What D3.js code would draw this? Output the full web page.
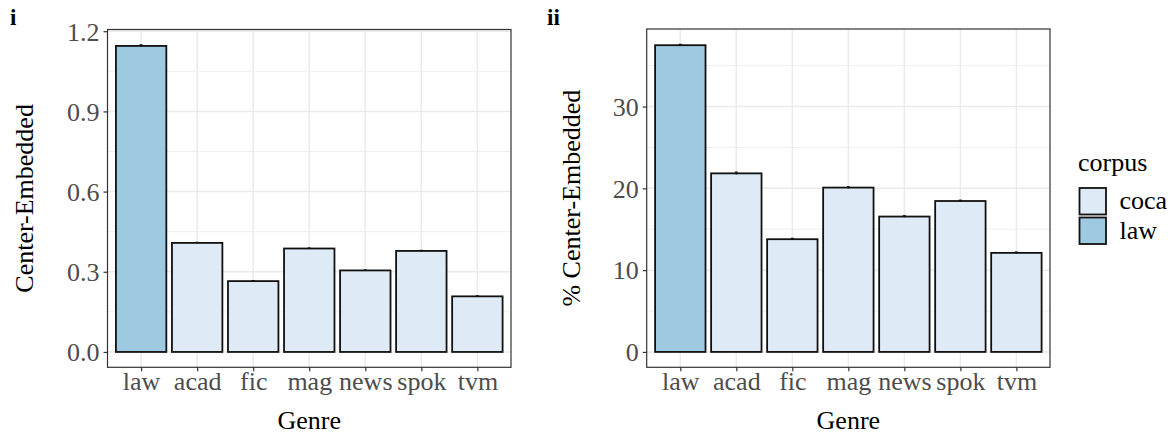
<!DOCTYPE html>
<html>
<head>
<meta charset="utf-8">
<script src="https://cdn.jsdelivr.net/npm/d3@7"></script>
<style>
  html, body { margin: 0; padding: 0; background: #ffffff; }
  svg { display: block; }
  text { font-family: "Liberation Serif", "DejaVu Serif", serif; }
</style>
</head>
<body>
<svg id="chart" width="1175" height="435"></svg>
<script>
// ---------- data ----------
const genres = ["law", "acad", "fic", "mag", "news", "spok", "tvm"];
const corpusOf = ["law", "coca", "coca", "coca", "coca", "coca", "coca"];
const centerEmbedded = [1.145, 0.408, 0.265, 0.387, 0.305, 0.378, 0.208];
const centerEmbeddedErr = [0.004, 0.002, 0.002, 0.002, 0.002, 0.002, 0.002];
const pctCenterEmbedded = [37.5, 21.83, 13.78, 20.09, 16.55, 18.45, 12.11];
const pctCenterEmbeddedErr = [0.1, 0.15, 0.1, 0.1, 0.1, 0.1, 0.1];
const yTicks1 = [0.0, 0.3, 0.6, 0.9, 1.2];
const yMinor1 = [0.15, 0.45, 0.75, 1.05];
const yTicks2 = [0, 10, 20, 30];
const yMinor2 = [5, 15, 25, 35];
const corpusLevels = ["coca", "law"];
const corpusColors = ["#DEEBF7", "#9ECAE1"];

// ---------- drawing ----------
const svg = d3.select("#chart");
const fillScale = d3.scaleOrdinal().domain(corpusLevels).range(corpusColors);

function drawPanel(opts) {
  const { left, right, top, bottom, values, errs, ticks, minor, fmt, yTitle, yTitleX, tag, tagX } = opts;
  const g = svg.append("g");

  const x = d3.scalePoint().domain(genres).range([left, right]).padding(0.6);
  const step = x.step();
  const barW = step * 0.9;

  const maxV = d3.max(values.map((v, i) => v + errs[i]));
  const y = d3.scaleLinear().domain([-0.05 * maxV, 1.05 * maxV]).range([bottom, top]);

  g.append("rect").attr("x", left).attr("y", top).attr("width", right - left).attr("height", bottom - top)
    .attr("fill", "#ffffff");

  g.selectAll(".gminor").data(minor.filter(v => y(v) > top && y(v) < bottom)).join("line")
    .attr("x1", left).attr("x2", right)
    .attr("y1", d => y(d)).attr("y2", d => y(d))
    .attr("stroke", "#EBEBEB").attr("stroke-width", 0.8);
  g.selectAll(".gmajor").data(ticks).join("line")
    .attr("x1", left).attr("x2", right)
    .attr("y1", d => y(d)).attr("y2", d => y(d))
    .attr("stroke", "#EBEBEB").attr("stroke-width", 1.5);
  g.selectAll(".gx").data(genres).join("line")
    .attr("x1", d => x(d)).attr("x2", d => x(d))
    .attr("y1", top).attr("y2", bottom)
    .attr("stroke", "#EBEBEB").attr("stroke-width", 1.5);

  g.selectAll(".bar").data(genres).join("rect")
    .attr("x", d => x(d) - barW / 2)
    .attr("width", barW)
    .attr("y", (d, i) => y(values[i]))
    .attr("height", (d, i) => y(0) - y(values[i]))
    .attr("fill", (d, i) => fillScale(corpusOf[i]))
    .attr("stroke", "#111111").attr("stroke-width", 1.8);

  const capW = 1.5;
  const eb = g.selectAll(".eb").data(genres).join("g");
  eb.append("line")
    .attr("x1", d => x(d)).attr("x2", d => x(d))
    .attr("y1", (d, i) => y(values[i] - errs[i])).attr("y2", (d, i) => y(values[i] + errs[i]))
    .attr("stroke", "#111").attr("stroke-width", 1.2);
  eb.append("line")
    .attr("x1", d => x(d) - capW).attr("x2", d => x(d) + capW)
    .attr("y1", (d, i) => y(values[i] + errs[i])).attr("y2", (d, i) => y(values[i] + errs[i]))
    .attr("stroke", "#111").attr("stroke-width", 1.2);

  g.append("rect").attr("x", left).attr("y", top).attr("width", right - left).attr("height", bottom - top)
    .attr("fill", "none").attr("stroke", "#333333").attr("stroke-width", 1.2);

  const yAxis = d3.axisLeft(y).tickValues(ticks).tickFormat(fmt).tickSize(4).tickPadding(4);
  const ya = g.append("g").attr("transform", `translate(${left},0)`).call(yAxis);
  ya.select(".domain").remove();
  ya.selectAll(".tick line").attr("stroke", "#333333").attr("stroke-width", 1.2);
  ya.selectAll(".tick text").attr("fill", "#4D4D4D")
    .style("font-family", '"Liberation Serif", serif').style("font-size", "26px")
    .attr("dy", "0.34em");

  const xAxis = d3.axisBottom(x).tickSize(4).tickPadding(4);
  const xa = g.append("g").attr("transform", `translate(0,${bottom})`).call(xAxis);
  xa.select(".domain").remove();
  xa.selectAll(".tick line").attr("stroke", "#333333").attr("stroke-width", 1.2);
  xa.selectAll(".tick text").attr("fill", "#4D4D4D")
    .style("font-family", '"Liberation Serif", serif').style("font-size", "26px")
    .attr("y", 23).attr("dy", 0);

  g.append("text").attr("x", (left + right) / 2).attr("y", bottom + 62)
    .attr("text-anchor", "middle").attr("fill", "#000").style("font-size", "26px").text("Genre");
  g.append("text")
    .attr("transform", `translate(${yTitleX},${(top + bottom) / 2}) rotate(-90)`)
    .attr("text-anchor", "middle").attr("fill", "#000").style("font-size", "26px").text(yTitle);

  g.append("text").attr("x", tagX).attr("y", 25).attr("fill", "#000")
    .style("font-size", "23px").style("font-weight", "bold").text(tag);
}

drawPanel({
  left: 107.5, right: 511, top: 29.5, bottom: 367.3,
  values: centerEmbedded, errs: centerEmbeddedErr,
  ticks: yTicks1, minor: yMinor1, fmt: d3.format(".1f"),
  yTitle: "Center-Embedded", yTitleX: 33, tag: "i", tagX: 10
});

drawPanel({
  left: 646.7, right: 1050, top: 29, bottom: 367.3,
  values: pctCenterEmbedded, errs: pctCenterEmbeddedErr,
  ticks: yTicks2, minor: yMinor2, fmt: d3.format("d"),
  yTitle: "% Center-Embedded", yTitleX: 580, tag: "ii", tagX: 547
});

const leg = svg.append("g");
leg.append("text").attr("x", 1078).attr("y", 171).attr("fill", "#000")
  .style("font-size", "26px").text("corpus");
const keys = leg.selectAll(".key").data(corpusLevels).join("g")
  .attr("transform", (d, i) => `translate(1079.5,${188 + i * 29.5})`);
keys.append("rect").attr("width", 26.5).attr("height", 26.5)
  .attr("fill", d => fillScale(d)).attr("stroke", "#111").attr("stroke-width", 1.8);
keys.append("text").attr("x", 40).attr("y", 21).attr("fill", "#000")
  .style("font-size", "26px").text(d => d);
</script>
</body>
</html>
